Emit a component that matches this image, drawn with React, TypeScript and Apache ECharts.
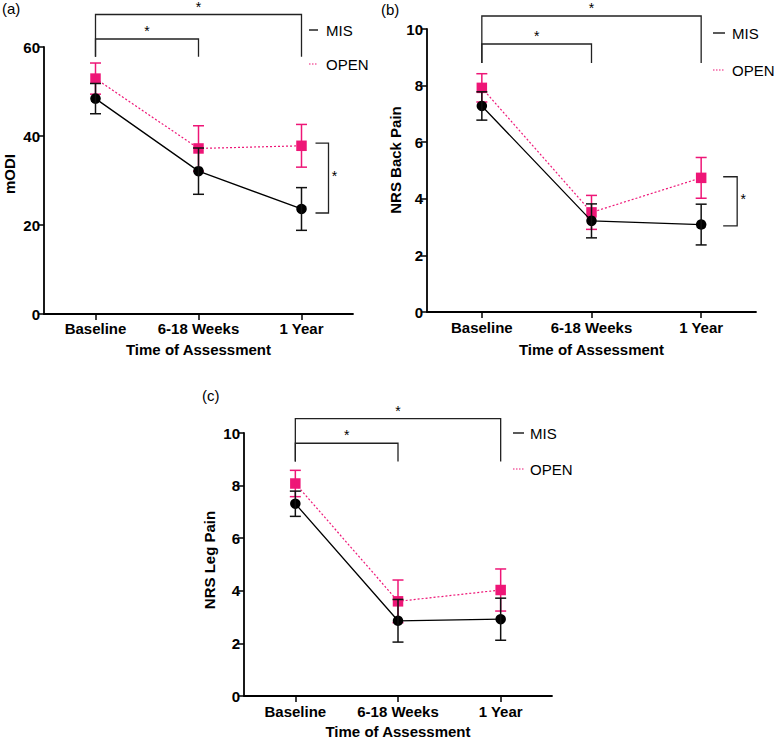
import React, { useEffect, useRef } from "react";
import * as echarts from "echarts";

const categories = ["Baseline", "6-18 Weeks", "1 Year"];

// Panel (a): mODI
const misODI = [48.4, 32.1, 23.6];
const misODIErr = [3.4, 5.2, 4.8];
const openODI = [52.9, 37.2, 37.8];
const openODIErr = [3.5, 5.1, 4.8];

// Panel (b): NRS Back Pain
const misBack = [7.28, 3.22, 3.09];
const misBackErr = [0.5, 0.6, 0.72];
const openBack = [7.92, 3.52, 4.74];
const openBackErr = [0.5, 0.6, 0.72];

// Panel (c): NRS Leg Pain
const misLeg = [7.31, 2.86, 2.92];
const misLegErr = [0.48, 0.81, 0.8];
const openLeg = [8.08, 3.6, 4.03];
const openLegErr = [0.5, 0.81, 0.8];

// significance brackets: [fromCat, toCat, level, drop]
const aBrackets = [[0, 2, 67.3, 57.8], [0, 1, 61.8, 57.8]];
const bBrackets = [[0, 2, 10.46, 8.8], [0, 1, 9.47, 8.8]];
const cBrackets = [[0, 2, 10.55, 8.92], [0, 1, 9.61, 8.92]];
// side brackets: [cat, top, bottom]
const aSide = [[2, 38.4, 22.7]];
const bSide = [[2, 4.78, 3.04]];

const FONT = "'Liberation Sans', Arial, Helvetica, sans-serif";
const PINK = "#ee1677";
const BLACK = "#000000";

type PanelCfg = {
  grid: { left: number; top: number; width: number; height: number };
  yMax: number;
  yInterval: number;
  yName: string;
  yNamePos: [number, number];
  mis: number[];
  misErr: number[];
  open: number[];
  openErr: number[];
  brackets: number[][];
  side: number[][];
  sideOff: [number, number];
  labelMargin: number;
  nameGap: number;
  legend: { x1: number; x2: number; tx: number; y1: number; y2: number };
  tag: string;
  tagPos: [number, number];
};

const panels: PanelCfg[] = [
  {
    grid: { left: 44, top: 47, width: 309, height: 267 },
    yMax: 60,
    yInterval: 20,
    yName: "mODI",
    yNamePos: [9, 174],
    mis: misODI,
    misErr: misODIErr,
    open: openODI,
    openErr: openODIErr,
    brackets: aBrackets,
    side: aSide,
    sideOff: [14, 27],
    labelMargin: 7,
    nameGap: 28,
    legend: { x1: 309, x2: 318, tx: 326, y1: 30, y2: 64 },
    tag: "(a)",
    tagPos: [2, 8],
  },
  {
    grid: { left: 427, top: 29, width: 329, height: 283 },
    yMax: 10,
    yInterval: 2,
    yName: "NRS Back Pain",
    yNamePos: [395, 160],
    mis: misBack,
    misErr: misBackErr,
    open: openBack,
    openErr: openBackErr,
    brackets: bBrackets,
    side: bSide,
    sideOff: [22, 36],
    labelMargin: 8,
    nameGap: 30,
    legend: { x1: 713, x2: 725, tx: 732, y1: 33, y2: 70 },
    tag: "(b)",
    tagPos: [381, 9],
  },
  {
    grid: { left: 244, top: 433, width: 308, height: 264 },
    yMax: 10,
    yInterval: 2,
    yName: "NRS Leg Pain",
    yNamePos: [209, 560],
    mis: misLeg,
    misErr: misLegErr,
    open: openLeg,
    openErr: openLegErr,
    brackets: cBrackets,
    side: [],
    sideOff: [0, 0],
    labelMargin: 8,
    nameGap: 28,
    legend: { x1: 513, x2: 524, tx: 530, y1: 433, y2: 469 },
    tag: "(c)",
    tagPos: [202, 395],
  },
];

function errorSeries(gi: number, mean: number[], err: number[], color: string, z: number) {
  return {
    type: "custom",
    xAxisIndex: gi,
    yAxisIndex: gi,
    clip: false,
    z,
    silent: true,
    data: categories.map((_, i) => [i, mean[i] - err[i], mean[i] + err[i]]),
    encode: { x: 0, y: [1, 2] },
    renderItem: (params: any, api: any) => {
      const c = api.value(0);
      const p1 = api.coord([c, api.value(1)]);
      const p2 = api.coord([c, api.value(2)]);
      const hw = 5.5;
      const st = { stroke: color, lineWidth: 1.5 };
      return {
        type: "group",
        children: [
          { type: "line", shape: { x1: p1[0], y1: p1[1], x2: p2[0], y2: p2[1] }, style: st },
          { type: "line", shape: { x1: p1[0] - hw, y1: p1[1], x2: p1[0] + hw, y2: p1[1] }, style: st },
          { type: "line", shape: { x1: p2[0] - hw, y1: p2[1], x2: p2[0] + hw, y2: p2[1] }, style: st },
        ],
      };
    },
  };
}

function starText(x: number, y: number) {
  return {
    type: "text",
    x,
    y,
    style: {
      text: "*",
      fontSize: 14,
      fontFamily: FONT,
      fill: "#000",
      align: "center",
      verticalAlign: "middle",
    },
  };
}

function bracketSeries(gi: number, data: number[][]) {
  return {
    type: "custom",
    xAxisIndex: gi,
    yAxisIndex: gi,
    clip: false,
    silent: true,
    z: 1,
    data,
    renderItem: (params: any, api: any) => {
      const from = api.value(0);
      const to = api.value(1);
      const level = api.value(2);
      const drop = api.value(3);
      const a = api.coord([from, drop]);
      const b = api.coord([from, level]);
      const c = api.coord([to, level]);
      const d = api.coord([to, drop]);
      return {
        type: "group",
        children: [
          {
            type: "polyline",
            shape: { points: [a, b, c, d] },
            style: { stroke: "#222", lineWidth: 1.3, fill: "none" },
          },
          starText((b[0] + c[0]) / 2, b[1] - 8),
        ],
      };
    },
  };
}

function sideSeries(gi: number, data: number[][], off: [number, number]) {
  return {
    type: "custom",
    xAxisIndex: gi,
    yAxisIndex: gi,
    clip: false,
    silent: true,
    z: 1,
    data,
    renderItem: (params: any, api: any) => {
      const cat = api.value(0);
      const t = api.coord([cat, api.value(1)]);
      const bt = api.coord([cat, api.value(2)]);
      const x1 = t[0] + off[0];
      const x2 = t[0] + off[1];
      return {
        type: "group",
        children: [
          {
            type: "polyline",
            shape: { points: [[x1, t[1]], [x2, t[1]], [x2, bt[1]], [x1, bt[1]]] },
            style: { stroke: "#222", lineWidth: 1.3, fill: "none" },
          },
          starText(x2 + 6, (t[1] + bt[1]) / 2 - 2),
        ],
      };
    },
  };
}

function buildOption() {
  const grid: any[] = [];
  const xAxis: any[] = [];
  const yAxis: any[] = [];
  const series: any[] = [];
  const graphic: any[] = [];

  panels.forEach((p, gi) => {
    grid.push({ ...p.grid, containLabel: false });
    xAxis.push({
      type: "category",
      gridIndex: gi,
      data: categories,
      boundaryGap: true,
      name: "Time of Assessment",
      nameLocation: "middle",
      nameGap: p.nameGap,
      nameTextStyle: { fontFamily: FONT, fontWeight: "bold", fontSize: 15, color: "#000" },
      axisLine: { show: true, lineStyle: { color: "#000", width: 1.8 } },
      axisTick: { show: true, alignWithLabel: true, interval: 0, length: 6, lineStyle: { color: "#000", width: 1.5 } },
      axisLabel: {
        interval: 0,
        hideOverlap: false,
        fontFamily: FONT,
        fontWeight: "bold",
        fontSize: 15,
        color: "#000",
        margin: p.labelMargin,
      },
      splitLine: { show: false },
    });
    yAxis.push({
      type: "value",
      gridIndex: gi,
      min: 0,
      max: p.yMax,
      interval: p.yInterval,
      axisLine: { show: true, lineStyle: { color: "#000", width: 1.8 } },
      axisTick: { show: true, length: 6, lineStyle: { color: "#000", width: 1.5 } },
      axisLabel: { fontFamily: FONT, fontWeight: "bold", fontSize: 15, color: "#000", margin: 4 },
      splitLine: { show: false },
    });

    series.push({
      type: "line",
      name: "OPEN",
      xAxisIndex: gi,
      yAxisIndex: gi,
      data: p.open,
      symbol: "rect",
      symbolSize: 10.5,
      z: 3,
      lineStyle: { color: PINK, width: 1.2, type: [2, 2] },
      itemStyle: { color: PINK },
      silent: true,
    });
    series.push(errorSeries(gi, p.open, p.openErr, PINK, 4));
    series.push({
      type: "line",
      name: "MIS",
      xAxisIndex: gi,
      yAxisIndex: gi,
      data: p.mis,
      symbol: "circle",
      symbolSize: 10.5,
      z: 5,
      lineStyle: { color: BLACK, width: 1.3 },
      itemStyle: { color: BLACK },
      silent: true,
    });
    series.push(errorSeries(gi, p.mis, p.misErr, "#111", 6));
    series.push(bracketSeries(gi, p.brackets));
    if (p.side.length) series.push(sideSeries(gi, p.side, p.sideOff));

    const L = p.legend;
    graphic.push(
      { type: "line", shape: { x1: L.x1, y1: L.y1, x2: L.x2, y2: L.y1 }, style: { stroke: "#000", lineWidth: 1.3 } },
      {
        type: "text",
        x: L.tx,
        y: L.y1,
        style: { text: "MIS", fontFamily: FONT, fontSize: 15, fill: "#000", verticalAlign: "middle", align: "left" },
      },
      {
        type: "line",
        shape: { x1: L.x1, y1: L.y2, x2: L.x2, y2: L.y2 },
        style: { stroke: PINK, lineWidth: 1.2, lineDash: [1.5, 1.5] },
      },
      {
        type: "text",
        x: L.tx,
        y: L.y2,
        style: { text: "OPEN", fontFamily: FONT, fontSize: 15, fill: "#000", verticalAlign: "middle", align: "left" },
      },
      {
        type: "text",
        x: p.tagPos[0],
        y: p.tagPos[1],
        style: { text: p.tag, fontFamily: FONT, fontSize: 15, fill: "#000", verticalAlign: "middle", align: "left" },
      },
      {
        type: "text",
        x: p.yNamePos[0],
        y: p.yNamePos[1],
        rotation: Math.PI / 2,
        style: {
          text: p.yName,
          fontFamily: FONT,
          fontSize: 15,
          fontWeight: "bold",
          fill: "#000",
          verticalAlign: "middle",
          align: "center",
        },
      }
    );
  });

  return {
    animation: false,
    backgroundColor: "#ffffff",
    grid,
    xAxis,
    yAxis,
    series,
    graphic,
  };
}

export default function App() {
  const ref = useRef<HTMLDivElement>(null);
  useEffect(() => {
    if (!ref.current) return;
    const chart = echarts.init(ref.current, null, { renderer: "svg" });
    chart.setOption(buildOption() as any);
    return () => chart.dispose();
  }, []);
  return (
    <div
      ref={ref}
      style={{ position: "fixed", left: 0, top: 0, width: 777, height: 740, background: "#fff" }}
    />
  );
}
